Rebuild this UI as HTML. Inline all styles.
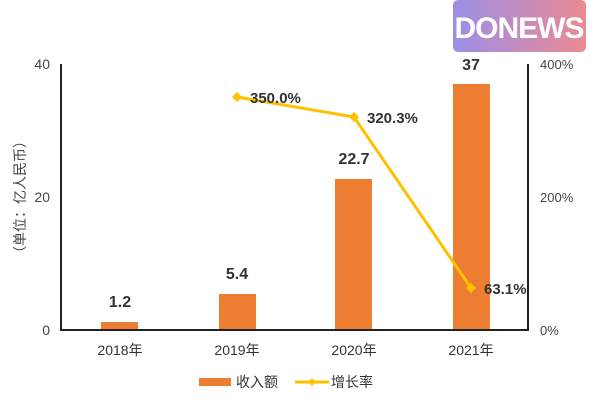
<!DOCTYPE html>
<html><head><meta charset="utf-8"><style>
html,body{margin:0;padding:0;background:#fff;width:600px;height:406px;overflow:hidden}
svg text{font-family:"Liberation Sans","Noto Sans CJK SC",sans-serif}
</style></head><body>
<svg width="600" height="406" viewBox="0 0 600 406" xmlns="http://www.w3.org/2000/svg">
<defs><linearGradient id="g" x1="0" x2="1"><stop offset="0" stop-color="#9b8ee8"/><stop offset="1" stop-color="#ec8a92"/></linearGradient></defs>
<rect x="453" y="0" width="133" height="52" rx="5" fill="url(#g)"/>
<text x="519" y="38" font-size="30" font-weight="bold" fill="#fff" text-anchor="middle" letter-spacing="-1">DONEWS</text>
<g fill="#ed7d31">
<rect x="101" y="322" width="37" height="8"/>
<rect x="219" y="294" width="37" height="36"/>
<rect x="335" y="179" width="37" height="151"/>
<rect x="453" y="84" width="37" height="246"/>
</g>
<line x1="61" y1="64" x2="61" y2="331" stroke="#222" stroke-width="2"/>
<line x1="528" y1="64" x2="528" y2="331" stroke="#222" stroke-width="2"/>
<line x1="60" y1="330" x2="529" y2="330" stroke="#222" stroke-width="2"/>
<g font-size="14" fill="#444" text-anchor="end">
<text x="50" y="69">40</text><text x="50" y="202">20</text><text x="50" y="335">0</text>
</g>
<g font-size="13" fill="#444">
<text x="540" y="69">400%</text><text x="540" y="202">200%</text><text x="540" y="335">0%</text>
</g>
<text transform="translate(25,197) rotate(-90)" font-size="14" fill="#444" text-anchor="middle">（单位：亿人民币）</text>
<g font-size="14" fill="#333" text-anchor="middle">
<text x="120" y="355">2018年</text><text x="237" y="355">2019年</text><text x="354" y="355">2020年</text><text x="471" y="355">2021年</text>
</g>
<g font-size="16" font-weight="bold" fill="#333" text-anchor="middle">
<text x="120" y="307">1.2</text><text x="237" y="279">5.4</text><text x="354" y="164">22.7</text><text x="471" y="70">37</text>
</g>
<polyline points="237,97 354,117 471,288" fill="none" stroke="#ffc000" stroke-width="3"/>
<g fill="#ffc000">
<path d="M237 92l5 5-5 5-5-5z"/><path d="M354 112l5 5-5 5-5-5z"/><path d="M471 283l5 5-5 5-5-5z"/>
</g>
<g font-size="15" font-weight="bold" fill="#333">
<text x="250" y="103">350.0%</text><text x="367" y="123">320.3%</text><text x="484" y="294">63.1%</text>
</g>
<rect x="199" y="378" width="32" height="8" fill="#ed7d31"/>
<text x="236" y="387" font-size="14" fill="#333">收入额</text>
<line x1="295" y1="382" x2="329" y2="382" stroke="#ffc000" stroke-width="3"/>
<path d="M312 378l4 4-4 4-4-4z" fill="#ffc000"/>
<text x="331" y="387" font-size="14" fill="#333">增长率</text>
</svg>
</body></html>
